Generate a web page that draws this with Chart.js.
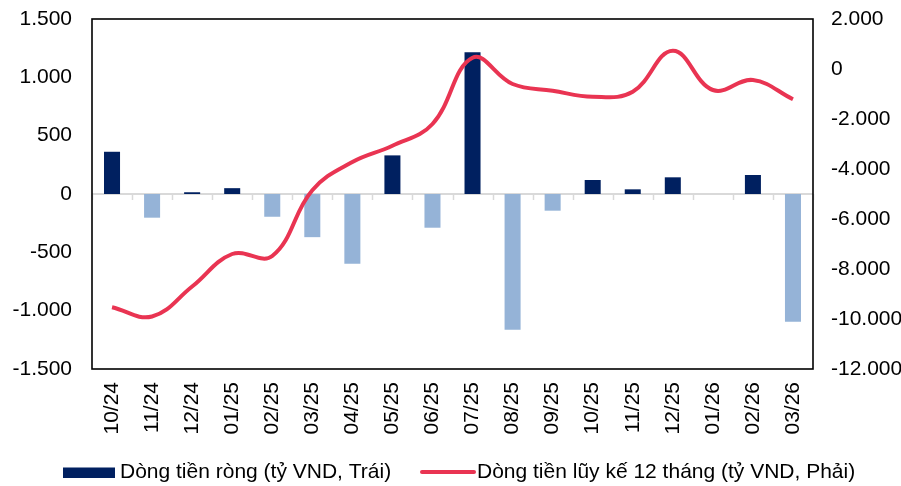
<!DOCTYPE html>
<html><head><meta charset="utf-8">
<script src="https://cdn.jsdelivr.net/npm/chart.js@4/dist/chart.umd.min.js"></script>
<style>html,body{margin:0;padding:0;background:#fff}#wrap{width:901px;height:486px}</style>
</head><body><div id="wrap"><canvas id="c"></canvas></div>
<script>
const categories = ["10/24","11/24","12/24","01/25","02/25","03/25","04/25","05/25","06/25","07/25","08/25","09/25","10/25","11/25","12/25","01/26","02/26","03/26"];
const netFlow = [362,-203,15,50,-195,-370,-598,331,-289,1215,-1163,-143,120,40,143,0,163,-1094];
const cumFlow12m = [-9530,-9900,-8700,-7400,-7480,-4850,-3720,-3070,-2200,450,-600,-870,-1110,-910,730,-840,-440,-1210];
const leftTicks = [1500,1000,500,0,-500,-1000,-1500];
const rightTicks = [2000,0,-2000,-4000,-6000,-8000,-10000,-12000];
const seriesNames = ["Dòng tiền ròng (tỷ VND, Trái)","Dòng tiền lũy kế 12 tháng (tỷ VND, Phải)"];

const NAVY = "#002060", LIGHT = "#95B3D7", RED = "rgb(233,52,82)";
const FAMILY = "'Liberation Sans', Arial, sans-serif";
const FONT = {family: FAMILY, size: 21};
const fmt = v => { const s = Math.abs(v).toString().replace(/\B(?=(\d{3})+(?!\d))/g, "."); return (v < 0 ? "-" : "") + s; };

const framePlugin = {
  id: "frame",
  beforeDatasetsDraw(chart) {
    const {ctx, chartArea: a, scales} = chart;
    const y0 = scales.y.getPixelForValue(0);
    ctx.save();
    ctx.strokeStyle = "#D9D9D9"; ctx.lineWidth = 2;
    ctx.beginPath(); ctx.moveTo(a.left, y0); ctx.lineTo(a.right, y0); ctx.stroke();
    ctx.lineWidth = 1.5;
    const n = categories.length, w = (a.right - a.left) / n;
    for (let i = 0; i <= n; i++) {
      const x = Math.round(scales.x.getPixelForValue(i) - w / 2) + 0.5;
      ctx.beginPath(); ctx.moveTo(x, y0); ctx.lineTo(x, y0 + 6); ctx.stroke();
    }
    ctx.strokeStyle = "#000"; ctx.lineWidth = 1.6;
    ctx.strokeRect(a.left, a.top, a.right - a.left, a.bottom - a.top);
    ctx.restore();
  }
};

// legend drawn on the canvas below the axis labels
const legendPlugin = {
  id: "customLegend",
  afterDraw(chart) {
    const ctx = chart.ctx;
    const cy = 472;
    ctx.save();
    ctx.font = "21px " + FAMILY;
    ctx.textBaseline = "middle";
    ctx.fillStyle = NAVY;
    ctx.fillRect(63, cy - 4.5, 52, 10.5);
    ctx.fillStyle = "#000";
    ctx.fillText(seriesNames[0], 120, cy);
    ctx.strokeStyle = RED; ctx.lineWidth = 4; ctx.lineCap = "round";
    ctx.beginPath(); ctx.moveTo(422, cy); ctx.lineTo(474, cy); ctx.stroke();
    ctx.fillText(seriesNames[1], 477, cy);
    ctx.restore();
  }
};

const noPad = s => { s.paddingTop = 0; s.paddingBottom = 0; };

new Chart(document.getElementById("c"), {
  data: {
    labels: categories,
    datasets: [
      {type: "line", label: seriesNames[1], data: cumFlow12m, yAxisID: "y2", order: 0,
       borderColor: RED, borderWidth: 4, tension: 0.4, pointRadius: 0, fill: false},
      {type: "bar", label: seriesNames[0], data: netFlow, yAxisID: "y", order: 1,
       backgroundColor: netFlow.map(v => v >= 0 ? NAVY : LIGHT),
       barPercentage: 0.4, categoryPercentage: 1}
    ]
  },
  options: {
    responsive: true, maintainAspectRatio: false, animation: false,
    layout: {padding: {top: 19, right: 0, left: 0, bottom: 40}},
    plugins: {
      tooltip: {enabled: false},
      legend: {display: false}
    },
    scales: {
      x: {
        grid: {display: false, drawTicks: false}, border: {display: false},
        ticks: {font: FONT, color: "#000", minRotation: 90, maxRotation: 90, autoSkip: false, padding: 13},
        afterFit(s) { s.height = 77; }
      },
      y: {
        position: "left", min: -1500, max: 1500,
        afterBuildTicks(s) { s.ticks = leftTicks.map(v => ({value: v})); },
        grid: {display: false, drawTicks: false}, border: {display: false},
        ticks: {font: FONT, color: "#000", padding: 20, callback: v => fmt(v)},
        afterFit(s) { s.width = 92; noPad(s); }
      },
      y2: {
        position: "right", min: -12000, max: 2000,
        afterBuildTicks(s) { s.ticks = rightTicks.map(v => ({value: v})); },
        grid: {display: false, drawTicks: false}, border: {display: false},
        ticks: {font: FONT, color: "#000", padding: 18, callback: v => fmt(v)},
        afterFit(s) { s.width = 88; noPad(s); }
      }
    }
  },
  plugins: [framePlugin, legendPlugin]
});
</script></body></html>
